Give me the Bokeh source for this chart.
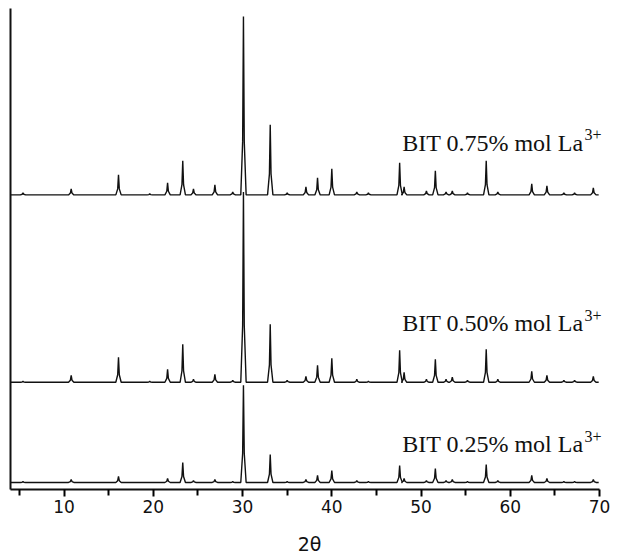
from bokeh.plotting import figure
from bokeh.models import Range1d, Label, FixedTicker
from bokeh.embed import file_html
from bokeh.resources import INLINE

# ---- data (2θ positions, peak heights in a.u.) ----
peak_2theta = [5.4, 10.8, 16.1, 19.6, 21.6, 23.3, 24.5, 26.9, 28.9, 30.1, 33.1,
               35.0, 37.1, 38.4, 40.0, 42.8, 44.1, 47.6, 48.1, 50.6, 51.6, 52.8,
               53.5, 55.2, 57.3, 58.6, 62.4, 64.1, 66.0, 67.2, 69.3]
int_075 = [2, 6, 20, 1, 12, 34, 6, 10, 3, 178, 70,
           2, 8, 17, 26, 3, 2, 32, 8, 4, 24, 3,
           4, 2, 34, 3, 11, 9, 2, 2, 7]
int_050 = [1, 7, 25, 1, 13, 38, 3, 8, 2, 190, 58,
           2, 6, 17, 24, 3, 1, 32, 10, 3, 23, 3,
           5, 2, 33, 3, 11, 7, 2, 2, 6]
int_025 = [1, 3, 6, 0, 4, 20, 2, 3, 1, 97, 28,
           1, 3, 7, 12, 2, 1, 17, 4, 2, 14, 2,
           3, 1, 18, 2, 7, 4, 1, 1, 3]
series_labels = ["BIT 0.75% mol La", "BIT 0.50% mol La", "BIT 0.25% mol La"]
superscript = "3+"
x_ticks = [10, 20, 30, 40, 50, 60, 70]
x_minor = [5, 15, 25, 35, 45, 55, 65]
x_label = "2θ"

# stacking offsets of each pattern (a.u.)
offsets = [294, 107, 7]
label_y = [346, 166, 45]
label_x = 68.2

X0, X_AXIS_END, X1 = 4.0, 70.0, 71.0
TRACE_END = 69.9
HW, SW = 0.3, 0.09  # peak base half-width and shoulder half-width (drawing style)


def pattern(pos, hts, base):
    xs, ys = [X0], [base]
    for x, h in zip(pos, hts):
        xs += [x - HW, x - SW, x, x + SW, x + HW]
        ys += [base, base + 0.3 * h, base + h, base + 0.3 * h, base]
    xs.append(TRACE_END)
    ys.append(base)
    return xs, ys


p = figure(width=618, height=557, output_backend="svg", toolbar_location=None,
           x_range=Range1d(X0, X1), y_range=Range1d(0, 480),
           min_border_left=10, min_border_top=8, min_border_right=10, min_border_bottom=0)
p.outline_line_color = None
p.grid.visible = False
p.background_fill_color = "white"

for ints, off in zip([int_075, int_050, int_025], offsets):
    xs, ys = pattern(peak_2theta, ints, off)
    p.line(xs, ys, line_color="#111111", line_width=1.4)

for txt, ly in zip(series_labels, label_y):
    p.add_layout(Label(x=label_x, y=ly, text=txt, text_align="right",
                       text_baseline="alphabetic", text_font="Liberation Serif",
                       text_font_size="24px", text_color="#111111"))
    p.add_layout(Label(x=label_x, y=ly, x_offset=1, y_offset=8, text=superscript,
                       text_align="left", text_baseline="alphabetic",
                       text_font="Liberation Serif", text_font_size="16px",
                       text_color="#111111"))

xa = p.xaxis[0]
xa.bounds = (X0, X_AXIS_END)
xa.ticker = FixedTicker(ticks=x_ticks, minor_ticks=x_minor)
xa.axis_line_width = 2
xa.axis_line_color = "#111111"
xa.major_tick_out = 7
xa.major_tick_in = 0
xa.minor_tick_out = 6
xa.minor_tick_in = 0
xa.major_tick_line_width = 2
xa.minor_tick_line_width = 2
xa.major_label_text_font = "DejaVu Sans"
xa.major_label_text_font_size = "17px"
xa.major_label_text_color = "#111111"
xa.major_label_standoff = 3
xa.axis_label = x_label
xa.axis_label_text_font = "DejaVu Sans"
xa.axis_label_text_font_size = "19px"
xa.axis_label_text_font_style = "normal"
xa.axis_label_text_color = "#111111"
xa.axis_label_standoff = 17

ya = p.yaxis[0]
ya.ticker = FixedTicker(ticks=[])
ya.axis_line_width = 2
ya.axis_line_color = "#111111"
ya.major_tick_line_color = None
ya.minor_tick_line_color = None
ya.major_label_standoff = 0

open("out.html", "w").write(file_html(p, INLINE))
